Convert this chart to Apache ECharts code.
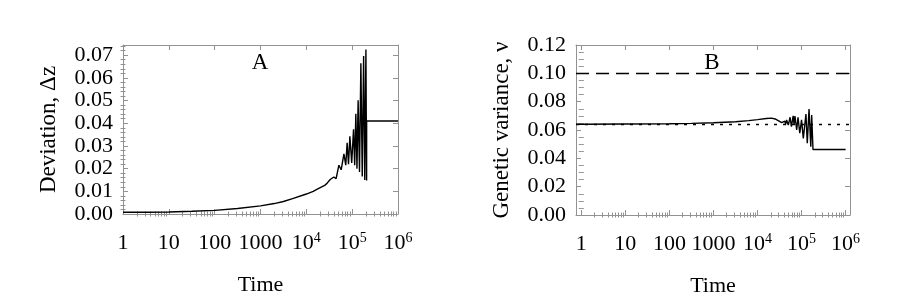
<!DOCTYPE html>
<html>
<head>
<meta charset="utf-8">
<script src="https://cdn.jsdelivr.net/npm/echarts@6/dist/echarts.min.js"></script>
<style>html,body{margin:0;padding:0;background:#fff}#c{width:900px;height:305px}</style>
</head>
<body>
<div id="c"></div>
<script>
// ---- tick labels (x axis is log10 of time) ----
const xTickExp = [0, 1, 2, 3, 4, 5, 6];
const xTickLabels = ['1', '10', '100', '1000', '10{s|4}', '10{s|5}', '10{s|6}'];
const yTicksA = [0, 0.01, 0.02, 0.03, 0.04, 0.05, 0.06, 0.07];
const yTicksB = [0, 0.02, 0.04, 0.06, 0.08, 0.10, 0.12];

// ---- panel A: deviation vs log10(time) ----
const logTimeA = [0, 0.5, 1, 1.5, 2, 2.5, 3, 3.3, 3.5, 3.7, 4, 4.15, 4.26, 4.4, 4.45, 4.52, 4.56,
  4.60, 4.65, 4.71, 4.76, 4.82, 4.86, 4.89, 4.92, 4.95, 4.99, 5.03, 5.055, 5.08, 5.105,
  5.13, 5.16, 5.19, 5.22, 5.25, 5.275, 5.30, 5.315, 5.316, 6.0];
const deviationA = [0.00075, 0.0008, 0.0009, 0.0012, 0.0016, 0.0024, 0.0036, 0.0046, 0.0055, 0.0068, 0.0088, 0.0100, 0.0112, 0.0126, 0.0135, 0.0152, 0.0158,
  0.0163, 0.0156, 0.0215, 0.0195, 0.0265, 0.0215, 0.0314, 0.0220, 0.0343, 0.0225, 0.0373, 0.0215, 0.0442, 0.0200,
  0.0501, 0.0185, 0.0665, 0.0165, 0.0697, 0.0150, 0.0725, 0.0148, 0.0410, 0.0410];

// ---- panel B: genetic variance vs log10(time) ----
const logTimeB = [-0.12, 0, 1, 2, 2.5, 3, 3.5, 3.8, 4.0, 4.2, 4.32, 4.4, 4.48, 4.55, 4.58,
  4.62, 4.64, 4.66, 4.70, 4.74, 4.77, 4.81, 4.83, 4.85, 4.89, 4.92, 4.96, 5.00, 5.04,
  5.10, 5.13, 5.17, 5.21, 5.23, 5.26, 5.262, 6.0];
const varianceB = [0.0641, 0.0641, 0.0642, 0.0644, 0.0647, 0.0651, 0.0658, 0.0666, 0.0673, 0.0681, 0.0684, 0.0678, 0.0665, 0.0652, 0.0648,
  0.0662, 0.0640, 0.0671, 0.0635, 0.0690, 0.0624, 0.0700, 0.0640, 0.0699, 0.0600, 0.0690, 0.0577, 0.0671, 0.0541,
  0.0713, 0.0506, 0.0748, 0.0482, 0.0705, 0.0462, 0.0462, 0.0462];
const dottedLevel = 0.064;
const dashedLevel = 0.10;

const FONT = 'Liberation Serif';
const FRAME = '#929292';

// minor tick positions
const minorX = [];
for (let d = 0; d < 6; d++) for (let k = 2; k <= 9; k++) minorX.push(d + Math.log10(k));
function minorY(majors, n, max) {
  const out = [];
  const step = (majors[1] - majors[0]) / n;
  for (let v = majors[0] + step; v < max - 1e-9; v += step) {
    if (!majors.some(m => Math.abs(m - v) < 1e-9)) out.push(+v.toFixed(6));
  }
  return out;
}

const labelStyle = { color: '#000', fontFamily: FONT, fontSize: 22 };
const nameStyle = { color: '#000', fontFamily: FONT, fontSize: 22 };
const yNameStyle = { color: '#000', fontFamily: FONT, fontSize: 23 };

function xAxes(grid, min, max) {
  const base = { type: 'value', gridIndex: grid, min, max, splitLine: { show: false },
    axisLabel: { show: false }, axisLine: { show: false } };
  const tick = (len, vals) => ({ show: true, inside: true, length: len, customValues: vals, lineStyle: { color: FRAME, width: 1 } });
  const line = { show: true, onZero: false, lineStyle: { color: FRAME, width: 1 } };
  return [
    Object.assign({}, base, { position: 'bottom', axisLine: line, axisTick: tick(5, xTickExp),
      axisLabel: Object.assign({ show: true, customValues: xTickExp, margin: 17, lineHeight: 24,
        formatter: v => xTickLabels[Math.round(v)],
        rich: { s: { fontSize: 14, lineHeight: 14, verticalAlign: 'top', fontFamily: FONT, color: '#000' } } }, labelStyle),
      name: 'Time', nameLocation: 'middle', nameGap: 60, nameTextStyle: nameStyle }),
    Object.assign({}, base, { position: 'bottom', axisTick: tick(2.5, minorX) }),
    Object.assign({}, base, { position: 'top', axisLine: line, axisTick: tick(5, xTickExp) }),
    Object.assign({}, base, { position: 'top', axisTick: tick(2.5, minorX) })
  ];
}
function yAxes(grid, min, max, majors, nMinor, name, gap) {
  const minors = minorY(majors, nMinor, max);
  const base = { type: 'value', gridIndex: grid, min, max, splitLine: { show: false },
    axisLabel: { show: false }, axisLine: { show: false } };
  const tick = (len, vals) => ({ show: true, inside: true, length: len, customValues: vals, lineStyle: { color: FRAME, width: 1 } });
  const line = { show: true, onZero: false, lineStyle: { color: FRAME, width: 1 } };
  return [
    Object.assign({}, base, { position: 'left', axisLine: line, axisTick: tick(5, majors),
      axisLabel: Object.assign({ show: true, customValues: majors, margin: 10, formatter: v => v.toFixed(2) }, labelStyle),
      name: name, nameLocation: 'middle', nameRotate: 90, nameGap: gap, nameTextStyle: yNameStyle }),
    Object.assign({}, base, { position: 'left', axisTick: tick(2.5, minors) }),
    Object.assign({}, base, { position: 'right', axisLine: line, axisTick: tick(5, majors) }),
    Object.assign({}, base, { position: 'right', axisTick: tick(2.5, minors) })
  ];
}

const chart = echarts.init(document.getElementById('c'));
chart.setOption({
  animation: false,
  backgroundColor: '#fff',
  grid: [
    { left: 123, top: 45, width: 275, height: 169 },
    { left: 576, top: 45, width: 274, height: 170 }
  ],
  xAxis: xAxes(0, 0, 6).concat(xAxes(1, -0.12, 6.1)),
  yAxis: yAxes(0, 0, 0.0745, yTicksA, 5, 'Deviation, \u0394z', 63)
    .concat(yAxes(1, 0, 0.12, yTicksB, 4, 'Genetic variance, \u03bd', 63)),
  graphic: [
    { type: 'text', x: 260, y: 63, style: { text: 'A', font: '23px "Liberation Serif"', fill: '#000', align: 'center', verticalAlign: 'middle', textAlign: 'center', textVerticalAlign: 'middle' } },
    { type: 'text', x: 712, y: 63, style: { text: 'B', font: '23px "Liberation Serif"', fill: '#000', align: 'center', verticalAlign: 'middle', textAlign: 'center', textVerticalAlign: 'middle' } }
  ],
  series: [
    { type: 'line', xAxisIndex: 0, yAxisIndex: 0, showSymbol: false, silent: true,
      lineStyle: { color: '#000', width: 1.4 },
      data: logTimeA.map((x, i) => [x, deviationA[i]]) },
    { type: 'line', xAxisIndex: 4, yAxisIndex: 4, showSymbol: false, silent: true,
      lineStyle: { color: '#000', width: 1.4 },
      data: logTimeB.map((x, i) => [x, varianceB[i]]),
      markLine: { silent: true, precision: 4, symbol: ['none', 'none'], label: { show: false },
        data: [
          { yAxis: dottedLevel, lineStyle: { color: '#000', width: 1.3, type: [3, 6] } },
          { yAxis: dashedLevel, lineStyle: { color: '#000', width: 1.3, type: [13, 7] } }
        ] } }
  ]
});
</script>
</body>
</html>
